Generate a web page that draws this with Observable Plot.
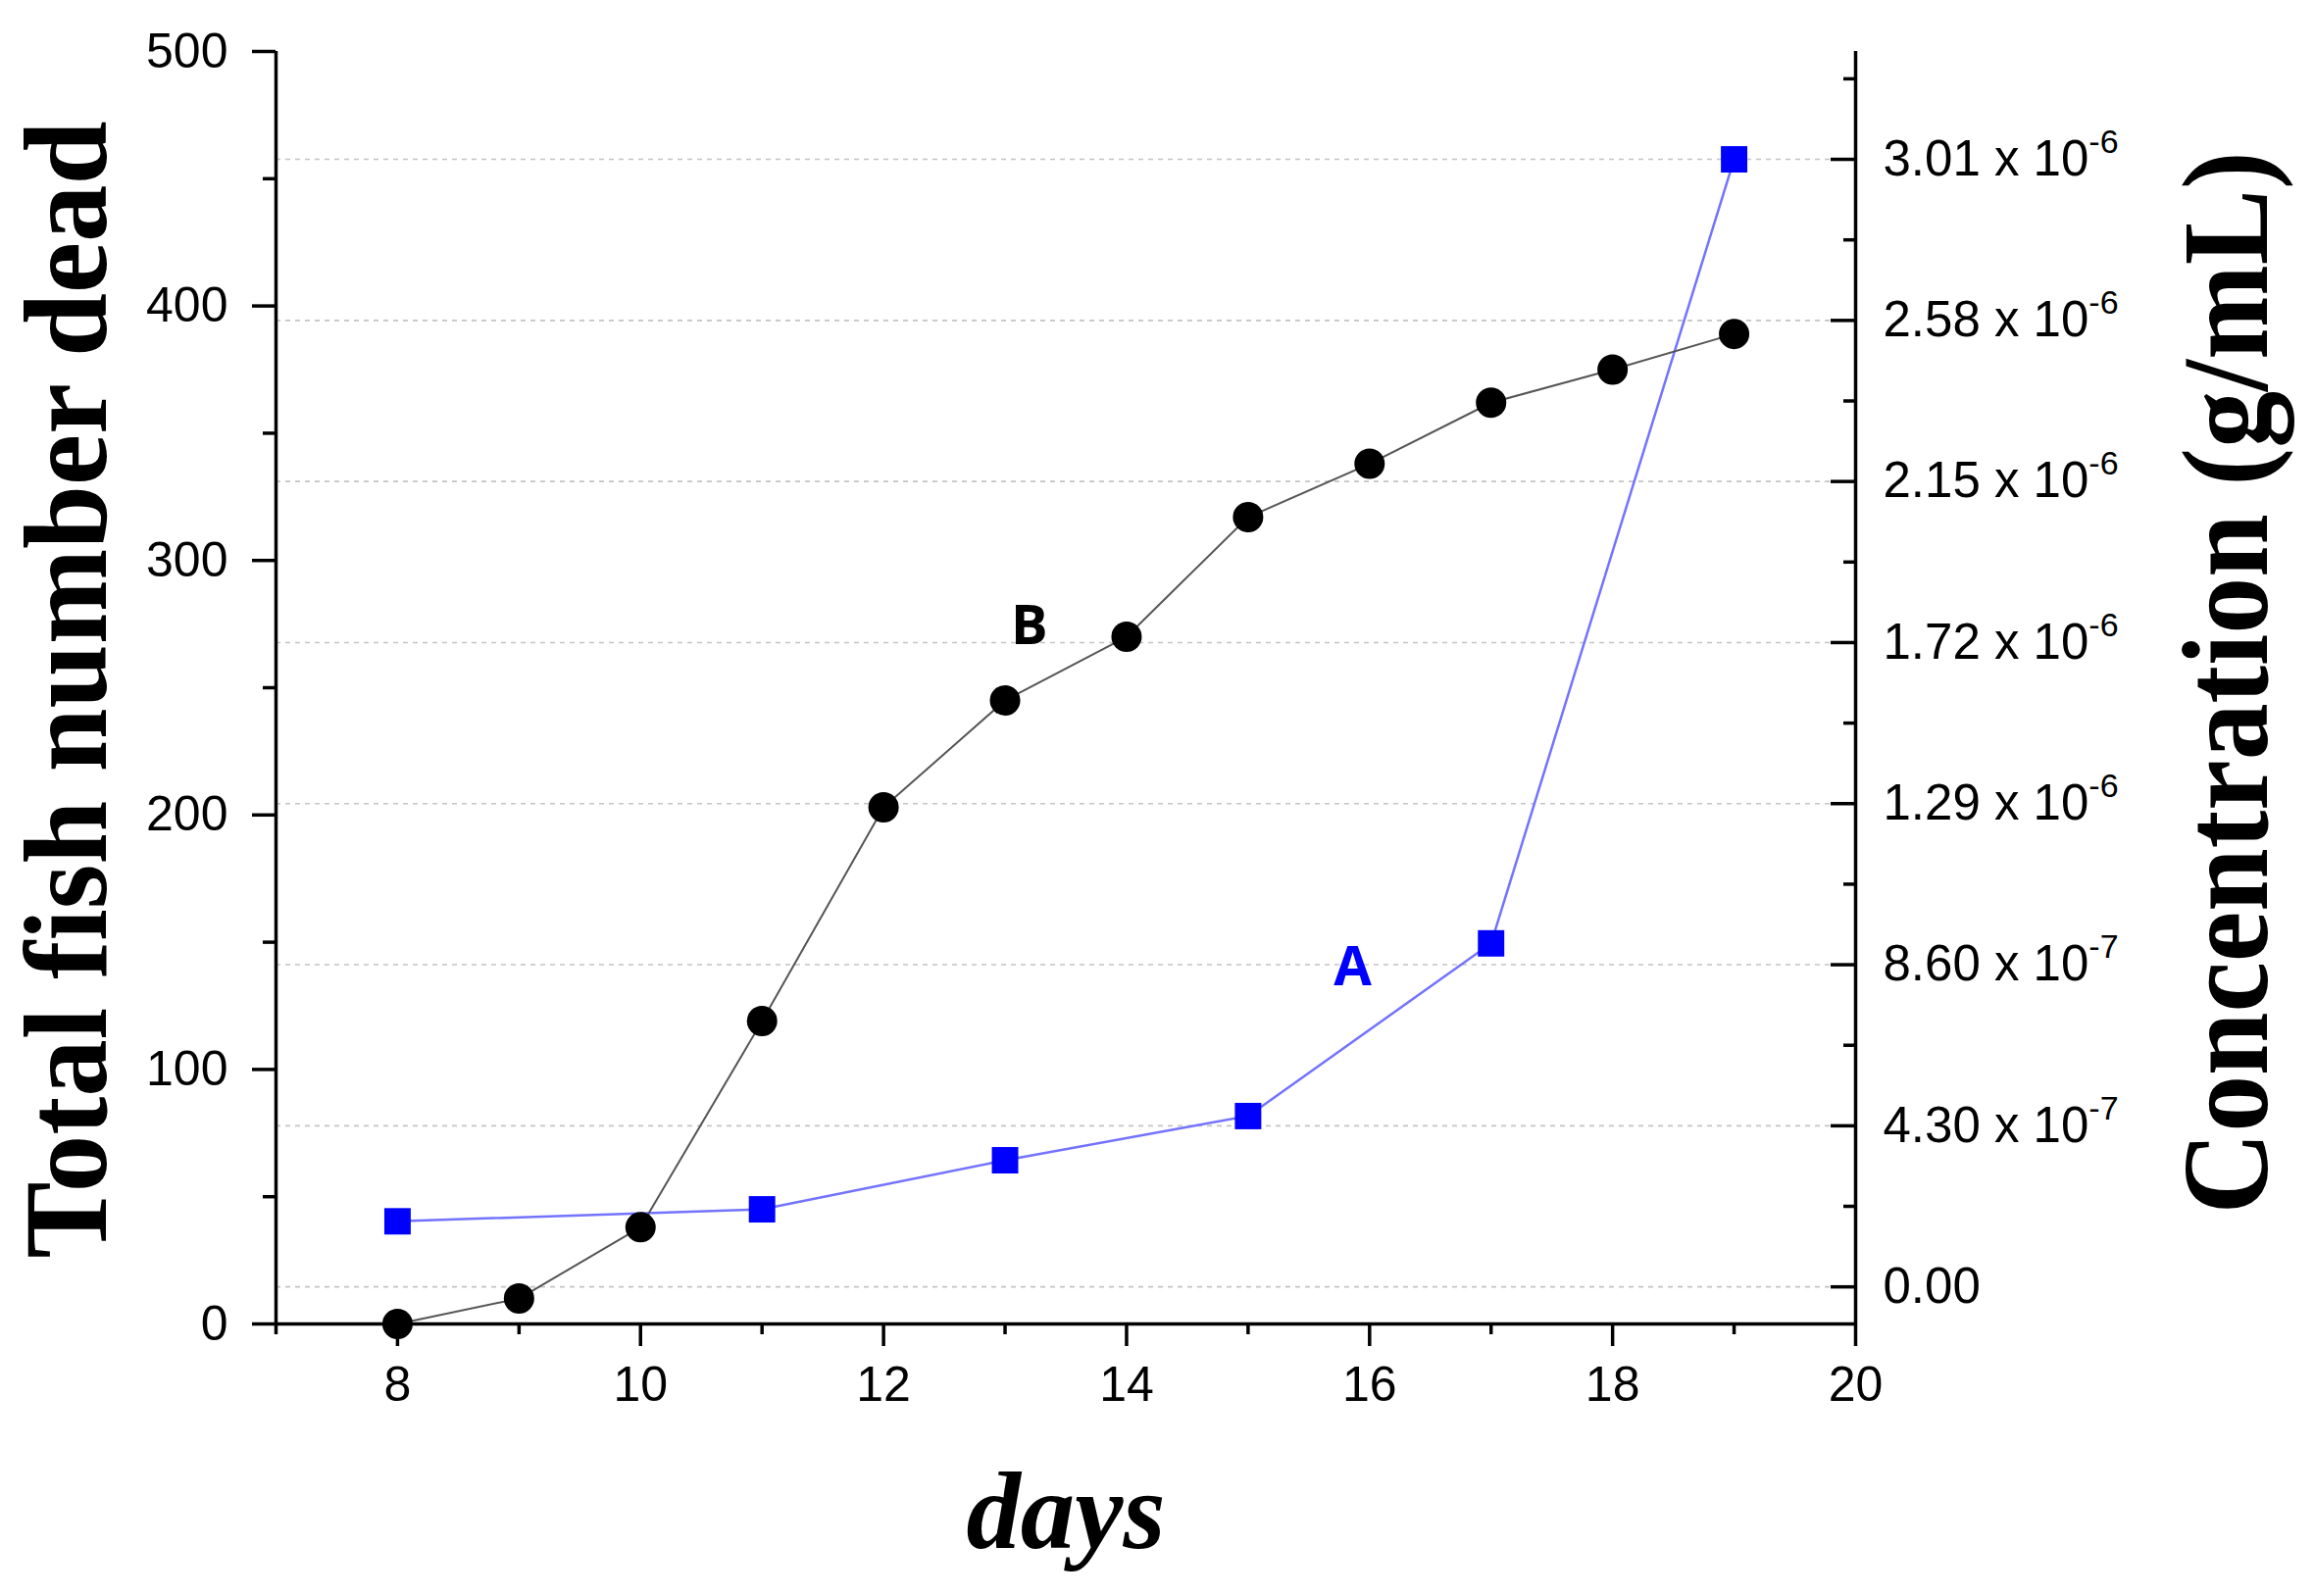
<!DOCTYPE html>
<html>
<head>
<meta charset="utf-8">
<script src="https://cdn.jsdelivr.net/npm/d3@7"></script>
<script src="https://cdn.jsdelivr.net/npm/@observablehq/plot@0.6"></script>
<style>
  html, body { margin: 0; padding: 0; background: #fff; }
</style>
</head>
<body>
<div id="chart"></div>
<script>
// ---- data ----
const days = [8, 9, 10, 11, 12, 13, 14, 15, 16, 17, 18, 19];
const deadFish = [0, 10, 38, 119, 203, 245, 270, 317, 338, 362, 375, 389];
const concDays = [8, 11, 13, 15, 17, 19];
const concValues = [1.75e-7, 2.07e-7, 3.38e-7, 4.56e-7, 9.17e-7, 3.01e-6];

const leftTicks = [0, 100, 200, 300, 400, 500];
const leftMinorTicks = [50, 150, 250, 350, 450];
const dayTicks = [8, 10, 12, 14, 16, 18, 20];
const dayMinorTicks = [7, 9, 11, 13, 15, 17, 19];
const concTicks = [0, 4.30e-7, 8.60e-7, 1.29e-6, 1.72e-6, 2.15e-6, 2.58e-6, 3.01e-6];
const concTickLabels = ["0.00", "4.30 x 10^-7", "8.60 x 10^-7", "1.29 x 10^-6", "1.72 x 10^-6",
                        "2.15 x 10^-6", "2.58 x 10^-6", "3.01 x 10^-6"];
const concMinorTicks = [2.15e-7, 6.45e-7, 1.075e-6, 1.505e-6, 1.935e-6, 2.365e-6, 2.795e-6, 3.225e-6];

const curveLabels = ["B", "A"];
const curveLabelDays = [13.2, 15.86];
const curveLabelValues = [274, 140];
const curveLabelColors = ["#000000", "#0000ff"];

const xDomain = [7, 20];
const yDomain = [0, 500];
const concDomain = [-9.9e-8, 3.298e-6];

const xTitle = "days";
const yTitle = "Total fish number dead";
const y2Title = "Concentration (g/mL)";

// ---- derived tables ----
const concToY = d3.scaleLinear().domain(concDomain).range(yDomain);
const fishData = days.map((d, i) => ({day: d, dead: deadFish[i]}));
const concData = concDays.map((d, i) => ({day: d, conc: concValues[i]}));
const labelData = curveLabels.map((t, i) => ({text: t, day: curveLabelDays[i], value: curveLabelValues[i], color: curveLabelColors[i]}));

const sans = "'Liberation Sans', Arial, sans-serif";
const serif = "'Liberation Serif', 'Times New Roman', serif";
const intFmt = d3.format("d");

const chart = Plot.plot({
  width: 2360,
  height: 1628,
  marginLeft: 281,
  marginRight: 468,
  marginTop: 52,
  marginBottom: 278,
  x: {domain: xDomain},
  y: {domain: yDomain},
  style: {background: "#fff", color: "#000", fontFamily: sans, overflow: "visible"},
  marks: [
    // dotted grid at right-axis ticks
    Plot.gridY(concTicks.map(concToY), {stroke: "#c4c4c4", strokeOpacity: 1, strokeWidth: 1.6, strokeDasharray: "5,5"}),

    // axis lines
    Plot.ruleX([xDomain[0], xDomain[1]], {stroke: "#000", strokeWidth: 3.5}),
    Plot.ruleY([yDomain[0]], {stroke: "#000", strokeWidth: 3.5}),

    // left axis
    Plot.axisY(leftTicks, {anchor: "left", tickSize: 24, tickPadding: 25, fontSize: 50, strokeWidth: 3.5, tickFormat: intFmt, label: null}),
    Plot.axisY(leftMinorTicks, {anchor: "left", tickSize: 13, tickFormat: () => "", strokeWidth: 3.5, label: null}),

    // bottom axis
    Plot.axisX(dayTicks, {anchor: "bottom", tickSize: 23, tickPadding: 20, fontSize: 50, strokeWidth: 3.5, tickFormat: intFmt, label: null}),
    Plot.axisX(dayMinorTicks, {anchor: "bottom", tickSize: 11, tickFormat: () => "", strokeWidth: 3.5, label: null}),

    // right axis (ticks pointing inward)
    Plot.ruleY(concTicks, {y: d => concToY(d), x1: () => xDomain[1], x2: () => xDomain[1], insetLeft: -25, stroke: "#000", strokeWidth: 3.5}),
    Plot.ruleY(concMinorTicks, {y: d => concToY(d), x1: () => xDomain[1], x2: () => xDomain[1], insetLeft: -12, stroke: "#000", strokeWidth: 3.5}),
    Plot.text(concTicks, {y: d => concToY(d), frameAnchor: "right", dx: 28, textAnchor: "start", lineAnchor: "middle",
      text: (d, i) => concTickLabels[i], fontSize: 51, fill: "#000"}),

    // series
    Plot.line(concData, {x: "day", y: d => concToY(d.conc), stroke: "#7373ff", strokeWidth: 2.5}),
    Plot.line(fishData, {x: "day", y: "dead", stroke: "#555555", strokeWidth: 2}),
    Plot.dot(concData, {x: "day", y: d => concToY(d.conc), symbol: "square", r: 15.2, fill: "#0000ff"}),
    Plot.dot(fishData, {x: "day", y: "dead", r: 15.5, fill: "#000000"}),

    // curve labels
    Plot.text(labelData, {x: "day", y: "value", text: "text", fill: "color", fontSize: 56, fontWeight: "bold",
      fontFamily: "'Open Sans', 'DejaVu Sans', sans-serif"}),

    // axis titles
    Plot.text([yTitle], {frameAnchor: "left", dx: -212, dy: 2, rotate: -90, textAnchor: "middle", lineAnchor: "middle",
      fontFamily: serif, fontWeight: "bold", fontSize: 120, fill: "#000"}),
    Plot.text([y2Title], {frameAnchor: "right", dx: 380, dy: -5, rotate: -90, textAnchor: "middle", lineAnchor: "middle",
      fontFamily: serif, fontWeight: "bold", fontSize: 124, fill: "#000"}),
    Plot.text([xTitle], {frameAnchor: "bottom", dy: 193, textAnchor: "middle", lineAnchor: "middle",
      fontFamily: serif, fontWeight: "bold", fontStyle: "italic", fontSize: 112, fill: "#000"})
  ]
});

document.getElementById("chart").appendChild(chart);

// superscript exponents in right-axis labels
d3.select(chart).selectAll("text").each(function () {
  const t = this.textContent;
  if (t.indexOf("^") < 0) return;
  const parts = t.split("^");
  const sel = d3.select(this);
  sel.text(null);
  sel.append("tspan").text(parts[0]);
  sel.append("tspan").attr("dy", -23).attr("font-size", 34).text(parts[1]);
});

// fit title lengths to the reference
const fit = new Map([[yTitle, 1160], [y2Title, 1084], [xTitle, 203]]);
d3.select(chart).selectAll("text").each(function () {
  const len = fit.get(this.textContent);
  if (len) d3.select(this).attr("textLength", len).attr("lengthAdjust", "spacingAndGlyphs");
});
</script>
</body>
</html>
